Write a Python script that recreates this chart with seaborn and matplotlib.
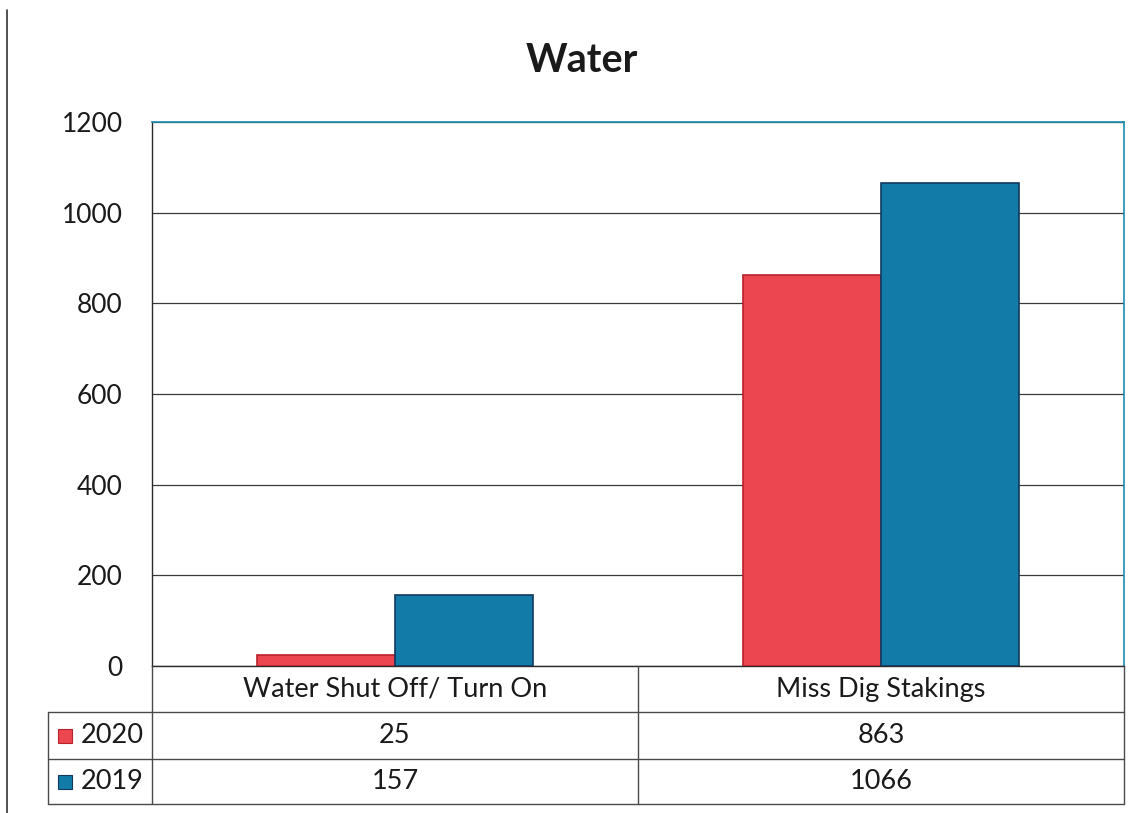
import matplotlib
matplotlib.use("Agg")
import matplotlib.pyplot as plt
from matplotlib.lines import Line2D
from matplotlib.patches import Rectangle
import pandas as pd
import seaborn as sns

# Work order counts by activity and year
categories = ["Water Shut Off/ Turn On", "Miss Dig Stakings"]
years = ["2020", "2019"]
counts_2020 = [25, 863]
counts_2019 = [157, 1066]
y_ticks = [0, 200, 400, 600, 800, 1000, 1200]

colors = {"2020": "#EC4650", "2019": "#137BA8"}
edges = {"2020": "#B8222C", "2019": "#12385E"}

df = pd.DataFrame({
    "category": categories * 2,
    "year": [years[0]] * 2 + [years[1]] * 2,
    "count": counts_2020 + counts_2019,
})

sns.set_theme(style="white")
plt.rcParams["font.family"] = ["Lato", "DejaVu Sans"]

W, H = 1139, 813
fig = plt.figure(figsize=(W / 100, H / 100), dpi=100)
fig.patch.set_facecolor("white")
ax_left, ax_right, ax_top, ax_bottom = 152, 1124, 122, 666
ax = fig.add_axes([ax_left / W, 1 - ax_bottom / H,
                   (ax_right - ax_left) / W, (ax_bottom - ax_top) / H])

sns.barplot(data=df, x="category", y="count", hue="year",
            order=categories, hue_order=years,
            palette=[colors[y] for y in years],
            width=0.568, gap=0, saturation=1, legend=False, ax=ax, zorder=3)

# Outline each bar in a darker shade of its fill
for container, yr in zip(ax.containers, years):
    for bar in container:
        bar.set_edgecolor(edges[yr])
        bar.set_linewidth(1.2)

ax.set_ylim(0, 1200)
ax.set_xlim(-0.5, 1.5)
ax.set_yticks(y_ticks)
ax.set_yticklabels([str(t) for t in y_ticks], fontsize=19, color="#1a1a1a")
ax.tick_params(axis="y", length=0, pad=21)
ax.set_xticks([])
ax.set_xlabel("")
ax.set_ylabel("")
ax.grid(axis="y", color="#3a3a3a", linewidth=0.9, zorder=0)
ax.set_axisbelow(True)

for side in ["left", "bottom"]:
    ax.spines[side].set_color("#2a2a2a")
    ax.spines[side].set_linewidth(1.0)
for side in ["top", "right"]:
    ax.spines[side].set_color("#1C8BB0")
    ax.spines[side].set_linewidth(1.2)

fig.text(582 / W, 1 - 60 / H, "Water", ha="center", va="center",
         fontsize=28.5, fontweight="bold", color="#1a1a1a")

# Data table beneath the plot, drawn in figure pixel coordinates
def fx(px):
    return px / W

def fy(py):
    return 1 - py / H

grid_color = "#4a4a4a"
rows = [666, 712, 759, 804]
col_label_left = 48
col_edges = [152, 638, 1124]

def hline(x0, x1, y):
    fig.add_artist(Line2D([fx(x0), fx(x1)], [fy(y), fy(y)],
                          color=grid_color, linewidth=1.0))

def vline(x, y0, y1):
    fig.add_artist(Line2D([fx(x), fx(x)], [fy(y0), fy(y1)],
                          color=grid_color, linewidth=1.0))

hline(col_label_left, ax_right, rows[1])
hline(col_label_left, ax_right, rows[2])
hline(col_label_left, ax_right, rows[3])
vline(col_label_left, rows[1], rows[3])
for x in col_edges:
    vline(x, rows[0], rows[3])

# Page border on the left
fig.add_artist(Line2D([fx(7), fx(7)], [fy(10), fy(813)],
                      color="#333333", linewidth=1.2))

cell_fs = 19.5
for i, cat in enumerate(categories):
    cx = (col_edges[i] + col_edges[i + 1]) / 2
    fig.text(fx(cx), fy((rows[0] + rows[1]) / 2), cat, ha="center",
             va="center", fontsize=cell_fs, color="#1a1a1a")
    fig.text(fx(cx), fy((rows[1] + rows[2]) / 2), str(counts_2020[i]),
             ha="center", va="center", fontsize=cell_fs, color="#1a1a1a")
    fig.text(fx(cx), fy((rows[2] + rows[3]) / 2), str(counts_2019[i]),
             ha="center", va="center", fontsize=cell_fs, color="#1a1a1a")

# Legend keys and year labels in the first column
for r, yr in enumerate(years):
    cy = (rows[r + 1] + rows[r + 2]) / 2
    key = 14
    fig.add_artist(Rectangle((fx(58), fy(cy + key / 2)), key / W, key / H,
                             facecolor=colors[yr], edgecolor=edges[yr],
                             linewidth=0.8))
    fig.text(fx(81), fy(cy), yr, ha="left", va="center",
             fontsize=cell_fs, color="#1a1a1a")

fig.savefig("out.png", dpi=100, facecolor="white")
